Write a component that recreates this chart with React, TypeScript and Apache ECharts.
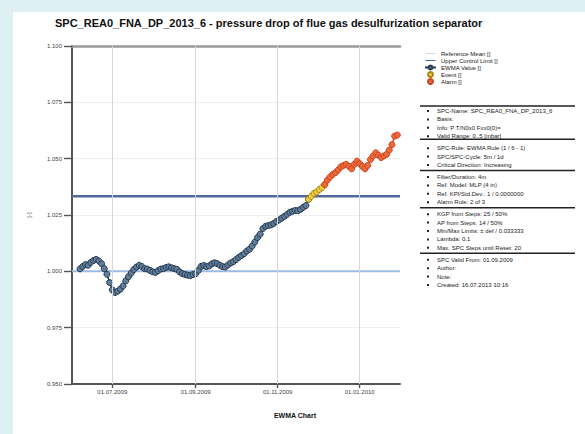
import React, { useEffect, useRef } from "react";
import * as echarts from "echarts";

const titleText = "SPC_REA0_FNA_DP_2013_6 - pressure drop of flue gas desulfurization separator";
const chartLabel = "EWMA Chart";
const yAxisName = "[-]";

// sampling of the EWMA values: first point and step in days
const firstPoint = [2009, 5, 7]; // 07.06.2009 (month is 0-based)
const stepDays = 2;

const ewmaValues = [
  1.0011, 1.0022, 1.003, 1.0027, 1.004, 1.0048, 1.0053, 1.0046, 1.0034, 1.0012,
  0.9987, 0.995, 0.9918, 0.9906, 0.9912, 0.9921, 0.9935, 0.9958, 0.9976, 0.9992,
  1.0008, 1.0019, 1.0027, 1.0021, 1.0012, 1.001, 1.0004, 0.9998, 0.9995, 1.0003,
  1.001, 1.0012, 1.0017, 1.002, 1.0016, 1.0012, 1.0009, 0.9998, 0.999, 0.9986,
  0.9983, 0.9981, 0.9986, 0.999, 1.0004, 1.0022, 1.0026, 1.0021, 1.0024, 1.0033,
  1.0038, 1.0034, 1.0027, 1.0021, 1.0019, 1.0028, 1.0037, 1.0043, 1.0052, 1.0062,
  1.007, 1.0078, 1.009, 1.0098, 1.0112, 1.013, 1.015, 1.0165, 1.019, 1.02,
  1.0203, 1.0206, 1.0212, 1.0221, 1.0228, 1.0236, 1.0244, 1.0253, 1.0262, 1.0266,
  1.027, 1.0269, 1.0275, 1.0284, 1.0292, 1.032, 1.0333, 1.0346, 1.0352, 1.0363,
  1.0372, 1.0385, 1.0405, 1.0419, 1.043, 1.0438, 1.045, 1.0464, 1.047, 1.0475,
  1.0466, 1.0455, 1.0475, 1.0489, 1.0478, 1.0466, 1.0455, 1.047, 1.0496, 1.0512,
  1.0526, 1.0515, 1.0505, 1.0512, 1.0519, 1.0538, 1.0562, 1.06, 1.0605,
];
// index of first event point and first alarm point
const eventStart = 85;
const alarmStart = 91;

const referenceMean = 1.0;
const upperControlLimit = 1.033333;

const yMin = 0.95;
const yMax = 1.1;
const yStep = 0.025;

const axisStart = [2009, 5, 1];
const axisEnd = [2010, 0, 31];
const xTickDates = [
  [2009, 6, 1],
  [2009, 8, 1],
  [2009, 10, 1],
  [2010, 0, 1],
];

const legendNames = [
  "Reference Mean []",
  "Upper Control Limit []",
  "EWMA Value []",
  "Event []",
  "Alarm []",
];

const infoGroups = [
  [
    "SPC-Name: SPC_REA0_FNA_DP_2013_6",
    "Basis:",
    "Info: P T/N0x0 Fxx0(0)=",
    "Valid Range: 0..5 [mbar]",
  ],
  ["SPC-Rule: EWMA Rule (1 / 6 - 1)", "SPC/SPC-Cycle: 5m / 1d", "Critical Direction: Increasing"],
  ["Filter/Duration: 4m", "Ref. Model: MLP (4 in)", "Ref. KPI/Std.Dev.: 1 / 0.0000000", "Alarm Rule: 2 of 3"],
  [
    "KGP from Steps: 25 / 50%",
    "AP from Steps: 14 / 50%",
    "Min/Max Limits: ± def / 0.033333",
    "Lambda: 0.1",
    "Max. SPC Steps until Reset: 20",
  ],
  ["SPC Valid From: 01.09.2009", "Author:", "Note:", "Created: 16.07.2013 10:16"],
];

const FONT = "Liberation Sans, Arial, sans-serif";

const ts = (a: number[]) => new Date(a[0], a[1], a[2]).getTime();
const pad = (n: number) => (n < 10 ? "0" + n : "" + n);
const fmtDate = (v: number) => {
  const d = new Date(v);
  return pad(d.getDate()) + "." + pad(d.getMonth() + 1) + "." + d.getFullYear();
};

// thin line legend icons (degenerate corner points keep the full icon box)
const thinLineIcon = "path://M0,0L0,0.01M0,4.4L20,4.4L20,5.6L0,5.6ZM20,9.99L20,10";
const thickLineIcon = "path://M0,0L0,0.01M0,3.8L20,3.8L20,6.2L0,6.2ZM20,9.99L20,10";

export default function App() {
  const ref = useRef<HTMLDivElement>(null);

  useEffect(() => {
    if (!ref.current) return;
    const chart = echarts.init(ref.current, undefined, { renderer: "svg" });

    const points = ewmaValues.map((v, i) => [
      new Date(firstPoint[0], firstPoint[1], firstPoint[2] + i * stepDays).getTime(),
      v,
    ]);
    const xMin = ts(axisStart);
    const xMax = ts(axisEnd);
    const ticks = xTickDates.map(ts);

    // info block graphics
    const info: any[] = [];
    const lineX1 = 420;
    const lineX2 = 575;
    const rowStart = 111;
    const rowH = 8.4;
    const groupGap = 3.6;
    info.push({
      type: "line",
      shape: { x1: lineX1, y1: 106, x2: lineX2, y2: 106 },
      style: { stroke: "#222", lineWidth: 1.5 },
    });
    let k = 0;
    infoGroups.forEach((g, gi) => {
      let lastY = 0;
      g.forEach((t) => {
        const y = rowStart + k * rowH + gi * groupGap;
        lastY = y;
        info.push({
          type: "rect",
          shape: { x: 427, y: y - 1, width: 2, height: 2 },
          style: { fill: "#222" },
        });
        info.push({
          type: "text",
          x: 437,
          y,
          style: {
            text: t,
            fontSize: 6,
            fontFamily: FONT,
            fill: "#222",
            verticalAlign: "middle",
          },
        });
        k++;
      });
      if (gi < infoGroups.length - 1) {
        const ly = lastY + (gi === 0 ? 3 : 5.5);
        info.push({
          type: "line",
          shape: { x1: lineX1, y1: ly, x2: lineX2, y2: ly },
          style: { stroke: "#222", lineWidth: 1.5 },
        });
      }
    });

    const option: any = {
      animation: false,
      backgroundColor: "transparent",
      title: {
        text: titleText,
        left: 50,
        top: 12,
        textStyle: { fontSize: 11, fontWeight: "bold", fontFamily: FONT, color: "#111" },
      },
      legend: {
        orient: "vertical",
        left: 424,
        top: 50,
        itemWidth: 11,
        itemHeight: 5,
        itemGap: 0,
        padding: 0,
        textStyle: { fontSize: 6, lineHeight: 7, fontFamily: FONT, color: "#222" },
        data: [
          { name: legendNames[0], icon: thinLineIcon },
          { name: legendNames[1], icon: thickLineIcon },
          { name: legendNames[2] },
          { name: legendNames[3], icon: "circle" },
          { name: legendNames[4], icon: "circle" },
        ],
      },
      grid: { left: 72, right: 185, top: 46, bottom: 50, containLabel: false },
      xAxis: [
        {
          type: "value",
          min: xMin,
          max: xMax,
          axisLine: { show: true, onZero: false, lineStyle: { color: "#555", width: 2 } },
          axisTick: { show: true, length: 4, customValues: ticks, lineStyle: { color: "#555", width: 1.4 } },
          axisLabel: {
            customValues: ticks,
            formatter: (v: number) => fmtDate(v),
            fontSize: 6,
            fontFamily: FONT,
            color: "#444",
            margin: 5,
          },
          splitLine: { show: false },
        },
        {
          type: "value",
          position: "top",
          min: xMin,
          max: xMax,
          axisLine: { show: true, onZero: false, lineStyle: { color: "#999", width: 2.5 } },
          axisTick: { show: false },
          axisLabel: { show: false },
          splitLine: { show: false },
        },
      ],
      yAxis: {
        type: "value",
        min: yMin,
        max: yMax,
        interval: yStep,
        name: yAxisName,
        nameLocation: "middle",
        nameRotate: 90,
        nameGap: 40,
        nameTextStyle: { fontSize: 6, fontFamily: FONT, color: "#444" },
        axisLine: { show: true, onZero: false, lineStyle: { color: "#555", width: 2 } },
        axisTick: { show: true, inside: false, length: 8, lineStyle: { color: "#555", width: 1.4 } },
        axisLabel: {
          formatter: (v: number) => v.toFixed(3),
          fontSize: 6,
          fontFamily: FONT,
          color: "#444",
          margin: 10,
        },
        splitLine: { show: true, lineStyle: { color: "#f0f0f0", width: 1 } },
      },
      series: [
        {
          name: "grid",
          type: "line",
          data: [],
          silent: true,
          z: 0,
          markLine: {
            silent: true,
            symbol: ["none", "none"],
            label: { show: false },
            lineStyle: { color: "#d8d8d8", width: 1, type: "solid" },
            data: ticks.map((t) => ({ xAxis: t })),
          },
        },
        {
          name: legendNames[0],
          type: "line",
          symbol: "none",
          z: 1,
          lineStyle: { color: "#9bbbe0", width: 2 },
          itemStyle: { color: "#9bbbe0" },
          data: [
            [xMin, referenceMean],
            [xMax, referenceMean],
          ],
        },
        {
          name: legendNames[1],
          type: "line",
          symbol: "none",
          z: 1,
          lineStyle: { color: "#4f6b9c", width: 2.5 },
          itemStyle: { color: "#4f6b9c" },
          data: [
            [xMin, upperControlLimit],
            [xMax, upperControlLimit],
          ],
        },
        {
          name: legendNames[2],
          type: "line",
          symbol: "circle",
          symbolSize: 6,
          showSymbol: true,
          z: 3,
          lineStyle: { color: "#243a52", width: 1.5 },
          itemStyle: { color: "#5f7d99", borderColor: "#26394f", borderWidth: 1 },
          data: points.slice(0, eventStart + 1),
        },
        {
          name: legendNames[3],
          type: "line",
          symbol: "circle",
          symbolSize: 6,
          showSymbol: true,
          z: 4,
          lineStyle: { color: "#c9a424", width: 1.5 },
          itemStyle: { color: "#f0d040", borderColor: "#a8871a", borderWidth: 1 },
          data: points.slice(eventStart, alarmStart + 1),
        },
        {
          name: legendNames[4],
          type: "line",
          symbol: "circle",
          symbolSize: 6,
          showSymbol: true,
          z: 5,
          lineStyle: { color: "#d8461f", width: 1.5 },
          itemStyle: { color: "#ea6a3c", borderColor: "#cf4420", borderWidth: 1 },
          data: points.slice(alarmStart),
        },
      ],
      graphic: [
        {
          type: "text",
          x: 295,
          y: 415,
          style: {
            text: chartLabel,
            fontSize: 7,
            fontWeight: "bold",
            fontFamily: FONT,
            fill: "#111",
            align: "center",
            verticalAlign: "middle",
          },
        },
        ...info,
      ],
    };
    chart.setOption(option);
    return () => chart.dispose();
  }, []);

  return (
    <div
      style={{
        position: "fixed",
        left: 0,
        top: 0,
        width: 585,
        height: 434,
        background: "#dff0f5",
        overflow: "hidden",
      }}
    >
      <div
        style={{
          position: "absolute",
          left: 13,
          top: 12,
          width: 572,
          height: 422,
          background: "#ffffff",
        }}
      />
      <div ref={ref} style={{ position: "absolute", left: 0, top: 0, width: 585, height: 434 }} />
    </div>
  );
}
